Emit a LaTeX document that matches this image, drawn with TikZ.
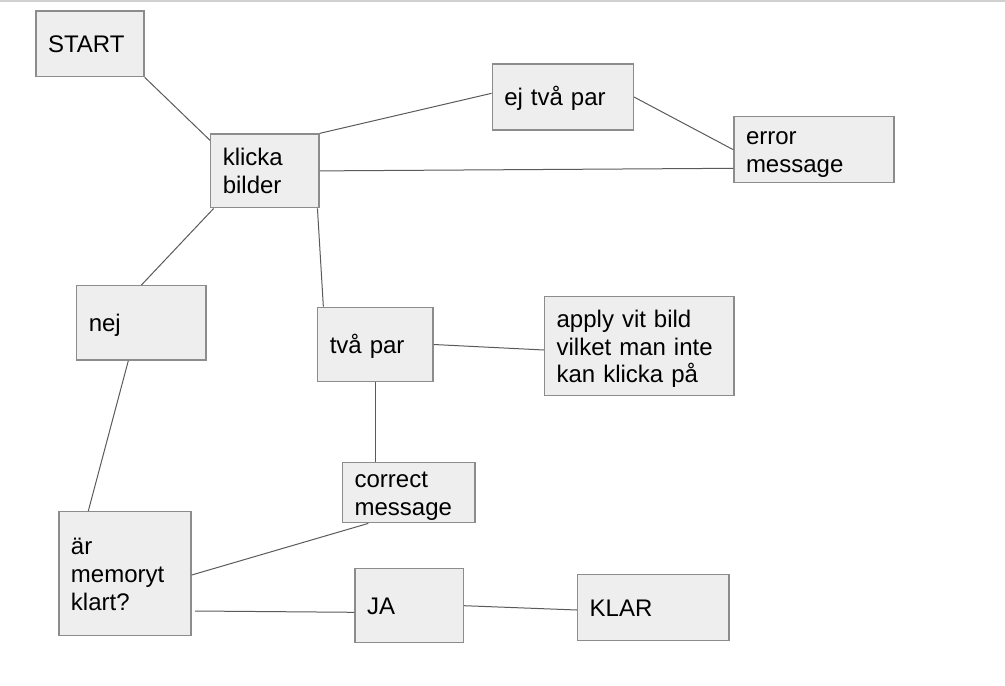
\documentclass[tikz,border=0pt]{standalone}
\usepackage{fontspec}
\setmainfont{Liberation Sans}
\definecolor{boxfill}{HTML}{EEEEEE}
\definecolor{boxline}{HTML}{8C8C8C}
\definecolor{wireline}{HTML}{5A5A5A}
\definecolor{topline}{HTML}{D0D0D0}
\newcommand{\linestrut}{\rule[-5pt]{0pt}{27.6pt}}
\setlength{\lineskiplimit}{-10pt}

\begin{document}
\begin{tikzpicture}[x=1pt, y=-1pt,
  box/.style={draw=boxline, line width=1.4pt, fill=boxfill, align=left, inner xsep=11pt, inner ysep=0pt,
    font=\fontsize{24}{27.6}\selectfont,
    execute at begin node=\hspace*{1pt}\linestrut, execute at end node=\linestrut},
  wire/.style={draw=wireline, line width=1pt}]
\useasboundingbox (0,0) rectangle (1005,686);
\draw[topline, line width=1.5pt] (0,0.75) -- (1005,0.75);
\node[box, minimum width=108pt, minimum height=65.7pt, text width=86pt] (start) at (90,43.8) {START};
\node[box, minimum width=108.3pt, minimum height=73.7pt, text width=86.3pt] (klicka) at (264.9,170.9) {klicka\\\hspace*{1pt}bilder};
\node[box, minimum width=141pt, minimum height=66pt, text width=119pt] (ej) at (562.8,97) {ej två par};
\node[box, minimum width=160pt, minimum height=66pt, text width=138pt] (error) at (814,149.7) {error\\\hspace*{1pt}message};
\node[box, minimum width=129.3pt, minimum height=74.3pt, text width=107.3pt] (nej) at (141.4,322.9) {nej};
\node[box, minimum width=115.3pt, minimum height=74.4pt, text width=93.3pt] (tva) at (375.4,344.5) {två par};
\node[box, minimum width=189.3pt, minimum height=99pt, text width=167.3pt] (apply) at (639.3,346.2) {apply vit bild\\\hspace*{1pt}vilket man inte\\\hspace*{1pt}kan klicka på};
\node[box, minimum width=132.3pt, minimum height=60pt, text width=110.3pt] (correct) at (408.8,492.7) {correct\\\hspace*{1pt}message};
\node[box, minimum width=132pt, minimum height=124pt, text width=110pt] (ar) at (125,573.7) {är\\\hspace*{1pt}memoryt\\\hspace*{1pt}klart?};
\node[box, minimum width=108.3pt, minimum height=74pt, text width=86.3pt] (ja) at (409.2,605.7) {JA};
\node[box, minimum width=151.3pt, minimum height=66pt, text width=129.3pt] (klar) at (653.3,607.7) {KLAR};
% connectors
\draw[wire] (start.south east) -- ([yshift=-7pt]klicka.north west);
\draw[wire] (klicka.north east) -- ([yshift=3.7pt]ej.west);
\draw[wire] (ej.east) -- (error.west);
\draw[wire] (klicka.east) -- ([yshift=-18.6pt]error.west);
\draw[wire] ([xshift=3.6pt]klicka.south west) -- (nej.north);
\draw[wire] ([xshift=-2.3pt]klicka.south east) -- ([xshift=6.3pt]tva.north west);
\draw[wire] (tva.east) -- ([yshift=-3.8pt]apply.west);
\draw[wire] (tva.south) -- (tva.south |- correct.north);
\draw[wire] ([xshift=-13.1pt]nej.south) -- ([xshift=-36.7pt]ar.north);
\draw[wire] ([xshift=-40.5pt]correct.south) -- ([yshift=-1.3pt]ar.east);
\draw[wire] ([xshift=3.3pt, yshift=-37.3pt]ar.east) -- ([yshift=-6.6pt]ja.west);
\draw[wire] (ja.east) -- ([yshift=-2.3pt]klar.west);
\end{tikzpicture}
\end{document}
